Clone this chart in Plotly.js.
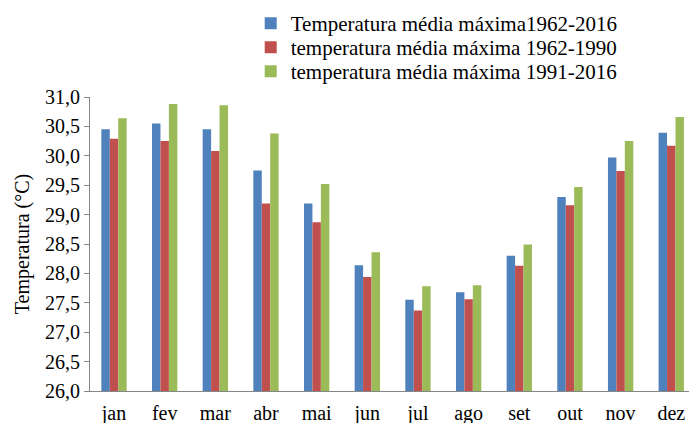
<!DOCTYPE html>
<html>
<head>
<meta charset="utf-8">
<script src="https://cdn.plot.ly/plotly-3.0.1.min.js"></script>
<style>html,body{margin:0;padding:0;background:#fff;}#chart{width:689px;height:423px;}</style>
</head>
<body>
<div id="chart"></div>
<script>
const months = ["jan","fev","mar","abr","mai","jun","jul","ago","set","out","nov","dez"];
const tmax_1962_2016 = [30.45,30.55,30.45,29.75,29.19,28.14,27.55,27.68,28.30,29.30,29.97,30.39];
const tmax_1962_1990 = [30.29,30.25,30.08,29.19,28.87,27.94,27.37,27.56,28.13,29.16,29.74,30.17];
const tmax_1991_2016 = [30.64,30.88,30.86,30.38,29.52,28.36,27.78,27.80,28.49,29.47,30.25,30.66];
const seriesNames = ["Temperatura média máxima1962-2016","temperatura média máxima 1962-1990","temperatura média máxima 1991-2016"];
const colors = ["#4F81BD","#C0504D","#9BBB59"];
const vals = [tmax_1962_2016, tmax_1962_1990, tmax_1991_2016];
const legendIds = ["legend","legend2","legend3"];

const data = vals.map((v,i)=>({
  type:"bar", x:months, y:v, name:seriesNames[i],
  marker:{color:colors[i], line:{width:0}},
  legend:legendIds[i],
  hoverinfo:"none"
}));

const font = "Liberation Serif";
function leg(y){
  return {x:0.2683, y:y, xanchor:"left", yanchor:"top", orientation:"v",
    font:{family:font, size:21, color:"#000"}, bgcolor:"rgba(0,0,0,0)",
    itemwidth:30, tracegroupgap:0, borderwidth:0};
}
const layout = {
  width:689, height:423,
  margin:{l:90, r:0, t:97, b:32, pad:0},
  paper_bgcolor:"#fff", plot_bgcolor:"#fff",
  font:{family:font, size:20, color:"#000"},
  barmode:"group", bargap:0.5, bargroupgap:0,
  separators:",.",
  showlegend:true,
  legend:leg(1.3197),
  legend2:leg(1.2381),
  legend3:leg(1.1565),
  xaxis:{type:"category", range:[-0.474, 11.35], showgrid:false, zeroline:false,
    showline:true, linecolor:"#868686", linewidth:1, ticks:"", ticklabelstandoff:4,
    tickfont:{family:font, size:20, color:"#000"}, fixedrange:true},
  yaxis:{range:[26,31], dtick:0.5, tick0:26, tickformat:".1f", showgrid:false, zeroline:false,
    showline:true, linecolor:"#868686", linewidth:1, ticks:"outside", ticklen:5, tickcolor:"#868686",
    tickfont:{family:font, size:20, color:"#000"},
    title:{text:"Temperatura (°C)", font:{family:font, size:20, color:"#000"}, standoff:10},
    automargin:false, fixedrange:true}
};
Plotly.newPlot("chart", data, layout, {displayModeBar:false, staticPlot:true});
</script>
</body>
</html>
